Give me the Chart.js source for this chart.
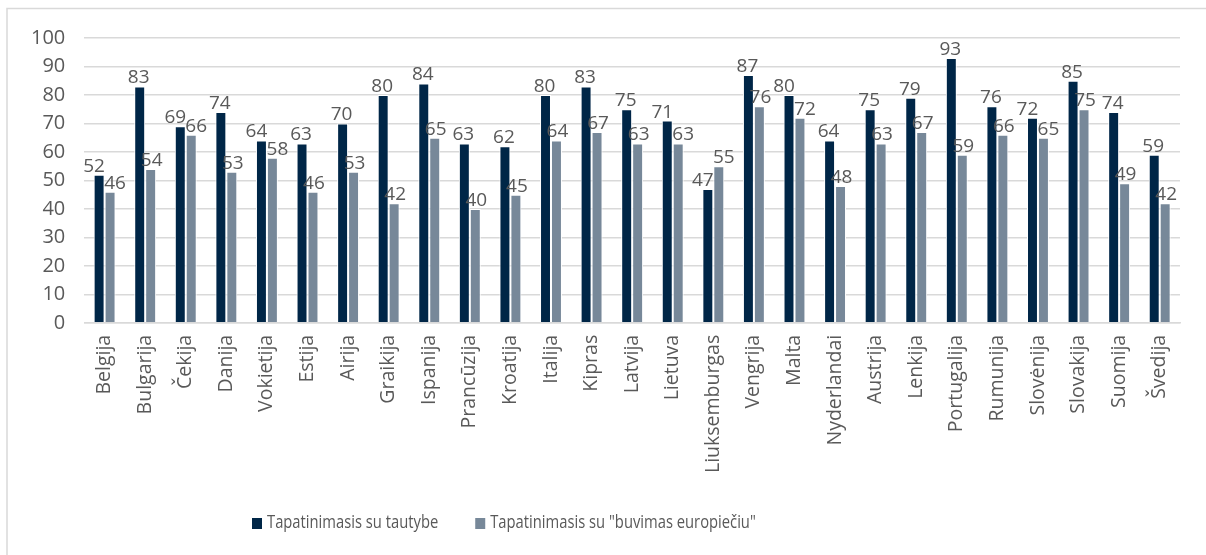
<!DOCTYPE html>
<html>
<head>
<meta charset="utf-8">
<script src="https://cdn.jsdelivr.net/npm/chart.js@4/dist/chart.umd.min.js"></script>
<style>
html,body{margin:0;padding:0;background:#fff;}
#wrap{position:relative;width:1206px;height:555px;}
</style>
</head>
<body>
<div id="wrap"><canvas id="c" width="1206" height="555"></canvas></div>
<script>
const categories = ["Belgija","Bulgarija","Čekija","Danija","Vokietija","Estija","Airija","Graikija","Ispanija","Prancūzija","Kroatija","Italija","Kipras","Latvija","Lietuva","Liuksemburgas","Vengrija","Malta","Nyderlandai","Austrija","Lenkija","Portugalija","Rumunija","Slovėnija","Slovakija","Suomija","Švedija"];
const nationalIdentity = [52,83,69,74,64,63,70,80,84,63,62,80,83,75,71,47,87,80,64,75,79,93,76,72,85,74,59];
const europeanIdentity = [46,54,66,53,58,46,53,42,65,40,45,64,67,63,63,55,76,72,48,63,67,59,66,65,75,49,42];
const seriesNames = ["Tapatinimasis su tautybe", "Tapatinimasis su \"buvimas europiečiu\""];
const seriesColors = ['#002647', '#778899'];
const yTicks = [0,10,20,30,40,50,60,70,80,90,100];

const FONT = "'Open Sans', Lato, sans-serif";
const TXT = "#595959";

const borderPlugin = {
  id: 'outerBorder',
  beforeDraw(chart) {
    const ctx = chart.ctx;
    ctx.save();
    ctx.fillStyle = '#fff';
    ctx.fillRect(0,0,chart.width,chart.height);
    ctx.strokeStyle = '#d9d9d9';
    ctx.lineWidth = 1.5;
    ctx.strokeRect(7, 8.5, chart.width + 10, chart.height + 10);
    ctx.restore();
  }
};

const labelPlugin = {
  id: 'barLabels',
  afterDatasetsDraw(chart) {
    const ctx = chart.ctx;
    ctx.save();
    ctx.font = "19px " + FONT;
    ctx.fillStyle = TXT;
    ctx.textAlign = 'center';
    ctx.textBaseline = 'bottom';
    const m0 = chart.getDatasetMeta(0), m1 = chart.getDatasetMeta(1);
    const d0 = chart.data.datasets[0].data, d1 = chart.data.datasets[1].data;
    for (let i = 0; i < d0.length; i++) {
      const close = Math.abs(d0[i] - d1[i]) < 10;
      const o = close ? 5 : 1;
      const e0 = m0.data[i], e1 = m1.data[i];
      ctx.fillText(String(d0[i]), e0.x - o, e0.y + 1);
      ctx.fillText(String(d1[i]), e1.x + o, e1.y + 1);
    }
    ctx.restore();
  }
};

const legendPlugin = {
  id: 'customLegend',
  afterDraw(chart) {
    const ctx = chart.ctx;
    ctx.save();
    ctx.font = "18px " + FONT;
    ctx.textBaseline = 'middle';
    const y = 523;
    const sx = 0.82;
    let x = 252;
    chart.data.datasets.forEach((ds, i) => {
      ctx.fillStyle = ds.backgroundColor;
      ctx.fillRect(x, y - 5, 10, 11);
      x += 15;
      ctx.fillStyle = TXT;
      ctx.save();
      ctx.translate(x, y);
      ctx.scale(sx, 1);
      ctx.fillText(ds.label, 0, 0);
      ctx.restore();
      x += ctx.measureText(ds.label).width * sx + 37;
    });
    ctx.restore();
  }
};

new Chart(document.getElementById('c'), {
  type: 'bar',
  data: {
    labels: categories,
    datasets: [
      { label: seriesNames[0], data: nationalIdentity, backgroundColor: seriesColors[0], borderColor: '#ffffff', borderWidth: 1, categoryPercentage: 0.54, barPercentage: 1 },
      { label: seriesNames[1], data: europeanIdentity, backgroundColor: seriesColors[1], borderColor: '#ffffff', borderWidth: 1, categoryPercentage: 0.54, barPercentage: 1 }
    ]
  },
  options: {
    responsive: false,
    animation: false,
    layout: { padding: { left: 12, right: 26, top: 38, bottom: 70 } },
    plugins: {
      legend: { display: false },
      tooltip: { enabled: false }
    },
    scales: {
      x: {
        grid: { display: false, drawTicks: false },
        border: { display: true, color: '#d9d9d9', width: 1.5 },
        ticks: { font: { family: FONT, size: 19.5 }, color: TXT, maxRotation: 90, minRotation: 90, padding: 12, autoSkip: false }
      },
      y: {
        min: 0, max: 100,
        afterBuildTicks(axis) { axis.ticks = yTicks.map(v => ({ value: v })); },
        grid: { color: '#d9d9d9', lineWidth: 1.5, drawTicks: false },
        border: { display: false },
        ticks: { font: { family: FONT, size: 20 }, color: TXT, padding: 19 }
      }
    }
  },
  plugins: [borderPlugin, labelPlugin, legendPlugin]
});
</script>
</body>
</html>
